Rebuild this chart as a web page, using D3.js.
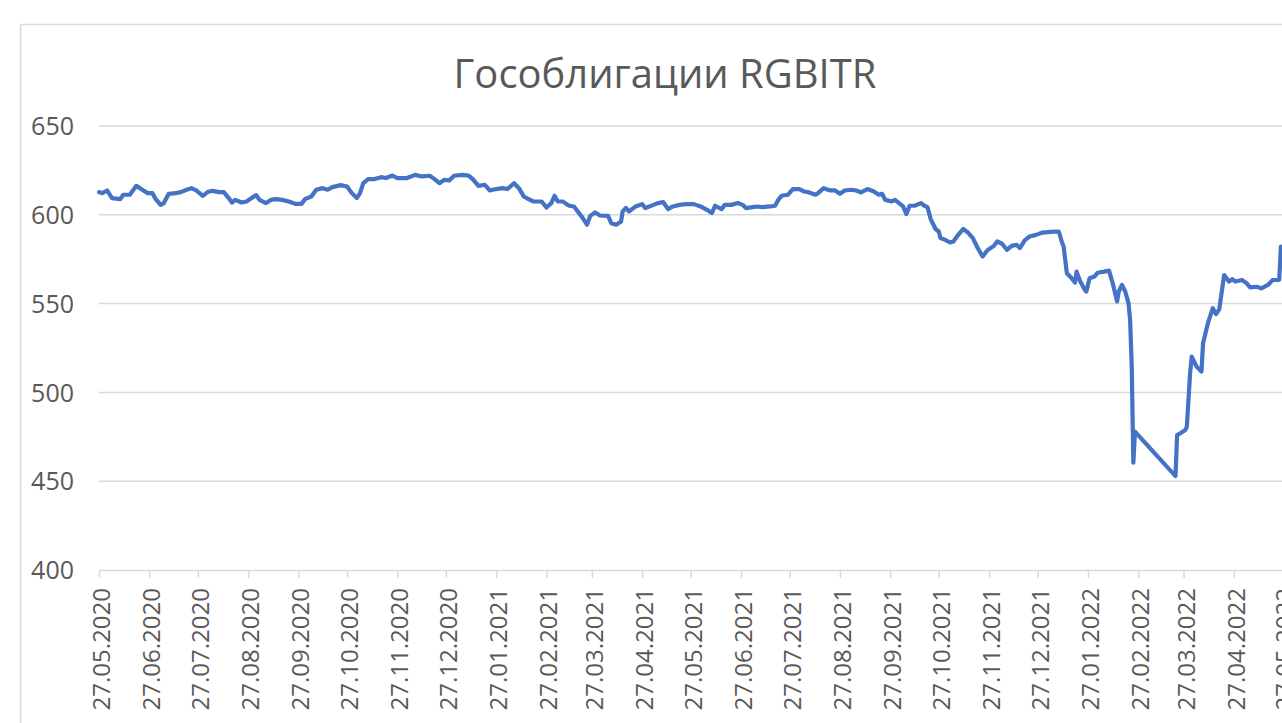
<!DOCTYPE html>
<html>
<head>
<meta charset="utf-8">
<script src="https://cdn.jsdelivr.net/npm/d3@7"></script>
<style>
  html, body { margin: 0; padding: 0; background: #fff; overflow: hidden; }
  svg { display: block; }
</style>
</head>
<body>
<svg width="1282" height="723"></svg>
<script>
const chartTitle = 'Гособлигации RGBITR';

const dates = [
  '27.05.2020','29.05.2020','01.06.2020','04.06.2020','09.06.2020','11.06.2020','15.06.2020','19.06.2020','22.06.2020','26.06.2020',
  '29.06.2020','01.07.2020','04.07.2020','06.07.2020','09.07.2020','13.07.2020','16.07.2020','20.07.2020','23.07.2020','26.07.2020',
  '30.07.2020','02.08.2020','05.08.2020','09.08.2020','12.08.2020','15.08.2020','17.08.2020','19.08.2020','23.08.2020','26.08.2020',
  '29.08.2020','01.09.2020','03.09.2020','07.09.2020','10.09.2020','13.09.2020','17.09.2020','21.09.2020','25.09.2020','29.09.2020',
  '01.10.2020','05.10.2020','08.10.2020','12.10.2020','15.10.2020','18.10.2020','23.10.2020','27.10.2020','30.10.2020','02.11.2020',
  '04.11.2020','06.11.2020','09.11.2020','13.11.2020','17.11.2020','20.11.2020','24.11.2020','27.11.2020','03.12.2020','08.12.2020',
  '12.12.2020','17.12.2020','20.12.2020','23.12.2020','26.12.2020','29.12.2020','01.01.2021','06.01.2021','10.01.2021','13.01.2021',
  '16.01.2021','20.01.2021','23.01.2021','27.01.2021','31.01.2021','03.02.2021','07.02.2021','10.02.2021','13.02.2021','16.02.2021',
  '19.02.2021','24.02.2021','27.02.2021','02.03.2021','04.03.2021','06.03.2021','09.03.2021','13.03.2021','16.03.2021','19.03.2021',
  '21.03.2021','24.03.2021','26.03.2021','29.03.2021','01.04.2021','06.04.2021','08.04.2021','11.04.2021','14.04.2021','15.04.2021',
  '17.04.2021','19.04.2021','23.04.2021','27.04.2021','29.04.2021','04.05.2021','07.05.2021','10.05.2021','13.05.2021','16.05.2021',
  '20.05.2021','24.05.2021','29.05.2021','02.06.2021','06.06.2021','09.06.2021','11.06.2021','15.06.2021','17.06.2021','21.06.2021',
  '25.06.2021','28.06.2021','30.06.2021','04.07.2021','07.07.2021','10.07.2021','15.07.2021','18.07.2021','20.07.2021','22.07.2021',
  '26.07.2021','29.07.2021','02.08.2021','05.08.2021','08.08.2021','12.08.2021','14.08.2021','17.08.2021','21.08.2021','24.08.2021',
  '27.08.2021','30.08.2021','03.09.2021','06.09.2021','09.09.2021','13.09.2021','17.09.2021','20.09.2021','22.09.2021','24.09.2021',
  '28.09.2021','30.09.2021','03.10.2021','05.10.2021','07.10.2021','09.10.2021','12.10.2021','16.10.2021','18.10.2021','20.10.2021',
  '22.10.2021','25.10.2021','27.10.2021','28.10.2021','30.10.2021','03.11.2021','05.11.2021','08.11.2021','11.11.2021','14.11.2021',
  '17.11.2021','20.11.2021','23.11.2021','26.11.2021','30.11.2021','02.12.2021','05.12.2021','08.12.2021','11.12.2021','14.12.2021',
  '16.12.2021','19.12.2021','22.12.2021','26.12.2021','30.12.2021','04.01.2022','09.01.2022','11.01.2022','12.01.2022','14.01.2022',
  '17.01.2022','19.01.2022','20.01.2022','22.01.2022','25.01.2022','26.01.2022','28.01.2022','31.01.2022','02.02.2022','06.02.2022',
  '09.02.2022','11.02.2022','14.02.2022','15.02.2022','17.02.2022','19.02.2022','21.02.2022','22.02.2022','23.02.2022','24.02.2022',
  '25.02.2022','22.03.2022','23.03.2022','25.03.2022','28.03.2022','29.03.2022','31.03.2022','01.04.2022','04.04.2022','07.04.2022',
  '08.04.2022','11.04.2022','12.04.2022','14.04.2022','16.04.2022','18.04.2022','21.04.2022','24.04.2022','26.04.2022','28.04.2022',
  '02.05.2022','05.05.2022','07.05.2022','11.05.2022','14.05.2022','18.05.2022','21.05.2022','24.05.2022','25.05.2022','26.05.2022'
];

const values = [
  612.8,612.2,613.7,609.4,608.8,611.3,611.3,616.3,614.5,612.2,
  612.2,608.8,605.6,606.6,611.8,612.2,612.6,614.1,615.0,613.7,
  610.7,612.8,613.5,612.8,612.8,609.4,606.9,608.4,606.9,607.5,
  609.4,611.1,608.4,606.6,608.4,608.8,608.4,607.5,606.2,606.2,
  608.8,610.3,614.1,615.0,614.1,615.6,616.7,615.9,612.2,609.4,
  612.2,617.8,620.1,620.1,621.2,620.7,622.1,620.7,620.7,622.5,
  621.6,622.0,620.1,617.8,619.7,619.3,622.0,622.5,622.1,619.7,
  616.3,616.9,613.7,614.5,615.0,614.5,617.8,615.0,610.3,608.8,
  607.5,607.5,604.1,606.6,610.7,607.5,607.5,605.1,604.7,601.0,
  598.7,594.4,599.4,601.3,599.6,599.4,595.3,594.4,596.2,601.9,
  603.8,601.9,604.7,606.0,603.8,605.6,606.6,607.2,603.2,604.7,
  605.6,606.0,606.0,604.7,602.8,601.0,605.1,603.2,605.6,605.6,
  606.6,605.6,603.8,604.3,604.7,604.3,604.7,605.1,608.4,610.7,
  611.3,614.5,614.5,613.1,612.6,611.3,612.6,615.0,613.7,613.7,
  611.8,613.7,614.1,613.7,612.6,614.5,613.1,611.3,611.8,608.4,
  607.5,608.4,606.2,604.7,600.4,605.1,605.1,606.6,605.1,604.3,
  597.6,592.0,590.6,586.9,586.3,584.4,585.0,588.7,592.0,590.0,
  586.9,581.3,576.5,580.0,582.5,585.0,583.7,580.3,582.5,583.1,
  581.3,585.6,587.8,588.7,590.0,590.4,590.6,584.4,582.1,567.1,
  564.3,561.9,568.0,563.0,557.8,556.8,564.3,565.2,567.4,568.0,
  568.6,562.4,551.2,556.8,560.5,556.8,550.3,541.0,515.0,460.4,
  477.9,452.9,476.0,477.0,478.8,480.7,510.8,520.1,514.5,511.7,
  527.7,539.0,541.8,547.4,544.1,546.8,566.1,562.4,563.7,562.4,
  563.3,561.4,559.1,559.5,558.6,560.5,563.3,563.3,563.5,582.1
];

const yTicks = [400, 450, 500, 550, 600, 650];

const xTickLabels = [
  '27.05.2020','27.06.2020','27.07.2020','27.08.2020','27.09.2020','27.10.2020','27.11.2020','27.12.2020',
  '27.01.2021','27.02.2021','27.03.2021','27.04.2021','27.05.2021','27.06.2021','27.07.2021','27.08.2021',
  '27.09.2021','27.10.2021','27.11.2021','27.12.2021','27.01.2022','27.02.2022','27.03.2022','27.04.2022','27.05.2022'
];

const parseDate = d3.timeParse('%d.%m.%Y');
const fmtDate = d3.timeFormat('%d.%m.%Y');
const font = '"Open Sans", "Noto Sans", sans-serif';
const grey = '#595959';
const gridColor = '#d9d9d9';

const points = dates.map((d, i) => ({date: parseDate(d), value: values[i]}));
const tickDates = xTickLabels.map(parseDate);

const svg = d3.select('svg');

const xScale = d3.scaleTime()
  .domain([tickDates[0], tickDates[tickDates.length - 1]])
  .range([99, 1282.5]);
const yScale = d3.scaleLinear().domain([400, 650]).range([570, 126]);

// chart area border (runs off the right / bottom edge)
svg.append('rect')
  .attr('x', 20.5).attr('y', 24.5)
  .attr('width', 1400).attr('height', 800)
  .attr('fill', 'none')
  .attr('stroke', gridColor)
  .attr('stroke-width', 1.5);

// title
const titleText = svg.append('text')
  .attr('x', 665).attr('y', 88)
  .attr('text-anchor', 'middle')
  .style('font-family', font)
  .style('font-size', '46px')
  .style('fill', grey)
  .text(chartTitle);
// fit the title width to the reference
const tw = titleText.node().getComputedTextLength();
titleText.style('font-size', (46 * 423 / tw) + 'px');

// horizontal gridlines
svg.append('g')
  .selectAll('line')
  .data(yTicks.filter(t => t > 400))
  .enter()
  .append('line')
  .attr('x1', 99).attr('x2', 1282)
  .attr('y1', d => yScale(d)).attr('y2', d => yScale(d))
  .attr('stroke', gridColor)
  .attr('stroke-width', 1.5);

// y axis labels
const yAxis = svg.append('g')
  .attr('transform', 'translate(74,0)')
  .call(d3.axisLeft(yScale).tickValues(yTicks).tickSize(0).tickPadding(0));
yAxis.select('.domain').remove();
yAxis.selectAll('text')
  .attr('x', 0)
  .attr('dy', '0.35em')
  .style('font-family', font)
  .style('font-size', '25px')
  .style('fill', grey);

// x axis
const xAxis = svg.append('g')
  .attr('transform', 'translate(0,570)')
  .call(d3.axisBottom(xScale).tickValues(tickDates).tickFormat(fmtDate).tickSize(8).tickSizeOuter(0));
xAxis.select('.domain')
  .attr('stroke', gridColor)
  .attr('stroke-width', 1.5);
xAxis.selectAll('.tick line')
  .attr('stroke', gridColor)
  .attr('stroke-width', 1.5);
xAxis.selectAll('.tick text')
  .attr('transform', 'translate(2,18) rotate(-90)')
  .attr('x', 0).attr('y', 0)
  .attr('dy', '0.35em')
  .attr('text-anchor', 'end')
  .style('font-family', font)
  .style('font-size', '24px')
  .style('fill', grey);

// series line
const line = d3.line()
  .x(d => xScale(d.date))
  .y(d => yScale(d.value));

svg.append('path')
  .datum(points)
  .attr('d', line)
  .attr('fill', 'none')
  .attr('stroke', '#4472C4')
  .attr('stroke-width', 4.2)
  .attr('stroke-linejoin', 'round')
  .attr('stroke-linecap', 'round');
</script>
</body>
</html>
